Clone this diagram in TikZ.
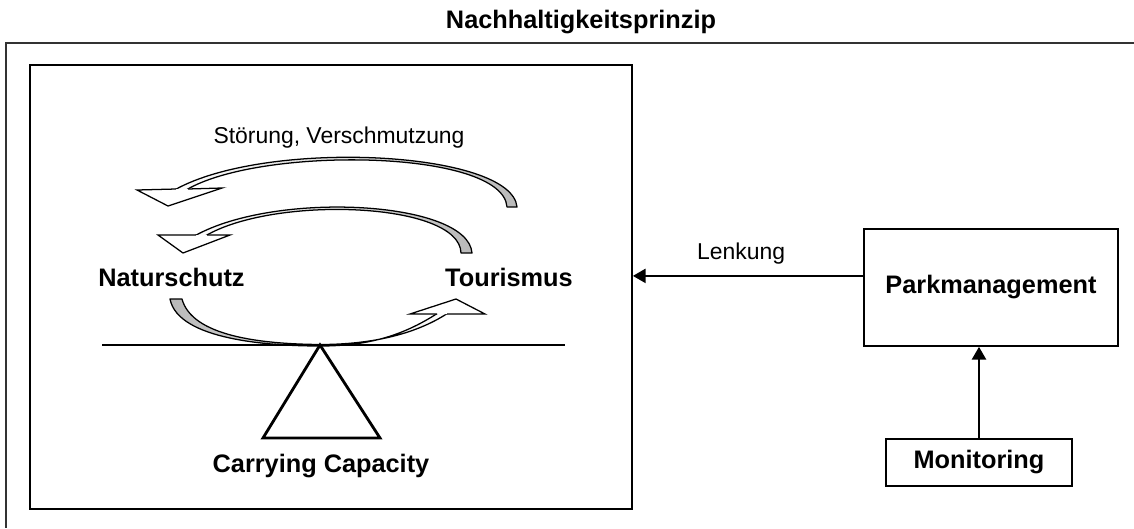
\documentclass[tikz,border=0pt]{standalone}
\usepackage{fontspec}
\setmainfont{Liberation Sans}
\usetikzlibrary{arrows.meta}
\usetikzlibrary{positioning}

\begin{document}
\begin{tikzpicture}[
    x=0.025cm, y=-0.025cm,  % pixel grid
    heading/.style={
        font=\bfseries\fontsize{18}{21}\selectfont,
        anchor=base
    },
    plain/.style={
        font=\fontsize{16.3}{19}\selectfont
    },
    box/.style={
        rectangle, 
        draw, 
        line width=1.2pt,
        font=\bfseries\fontsize{18}{21}\selectfont,
        align=center
    },
    ribbon/.style={draw, line width=0.9pt, line join=round},
    tip/.style={draw, line width=0.9pt, fill=white, line join=miter},
    link/.style={-{Triangle[length=9pt, width=10pt]}, line width=1.4pt}
]
    \useasboundingbox (0,0) rectangle (1134,528);
    \node (title) [heading] at (581,28) {Nachhaltigkeitsprinzip};
    \draw [line width=1.4pt, black!80] (1134,43) -- (6,43) -- (6,528);

    \node (system) [box, minimum width=15.05cm, minimum height=11.1cm] at (331,287) {};
    \node (stoerung) [plain, anchor=base] at (339,143) {Störung, Verschmutzung};
    \node (naturschutz) [heading] at (171.5,286) {Naturschutz};
    \node (tourismus) [heading] at (509,286) {Tourismus};
    \node (capacity) [heading] at (321,472) {Carrying Capacity};

    % Kreislauf-Pfeile
    \draw [ribbon, left color=white, middle color=white, right color=gray!55]
        (517,207) .. controls (512,150) and (260,138) .. (171,192) -- (183,192)
        .. controls (252,146) and (503,148) .. (507,207) -- cycle;
    \draw [tip] (188,189) -- (222,188) -- (168,206) -- (137,190) -- (176,189);
    \draw [ribbon, left color=white, middle color=white, right color=gray!55]
        (472,253) .. controls (468,200) and (270,190) .. (191,238) -- (202,238)
        .. controls (268,195) and (460,201) .. (461,253) -- cycle;
    \draw [tip] (207,235) -- (230,235) -- (183,253) -- (158,235) -- (196,235);
    \draw [ribbon, left color=gray!55, middle color=white, right color=white]
        (170,299) .. controls (178,340) and (270,346) .. (320,346)
        .. controls (370,346) and (405,335) .. (441,311) -- (451,311)
        .. controls (418,334) and (372,344.5) .. (320,344.5)
        .. controls (260,344) and (192,336) .. (182,299) -- cycle;
    \draw [tip] (447,314) -- (485,314) -- (456,299) -- (410,314) -- (437,314);

    % Waage
    \draw [line width=2pt] (102,345) -- (565,345);
    \draw [line width=2pt, line join=miter] (320,345) -- (380,438) -- (263,438) -- cycle;

    \node (parkmanagement) [box, minimum width=6.35cm, minimum height=2.925cm] at (991,287.5) {Parkmanagement};
    \node (monitoring) [box, minimum width=4.65cm, minimum height=1.175cm] at (979,462.5) {Monitoring};

    % Verbindungen
    \coordinate (lenkungstart) at ([yshift=0.29cm]parkmanagement.west);
    \draw [link] (lenkungstart) -- (lenkungstart -| system.east)
        node [plain, pos=0.53, above=4pt] {Lenkung};
    \draw [link] (monitoring) -- (monitoring |- parkmanagement.south);
\end{tikzpicture}
\end{document}
